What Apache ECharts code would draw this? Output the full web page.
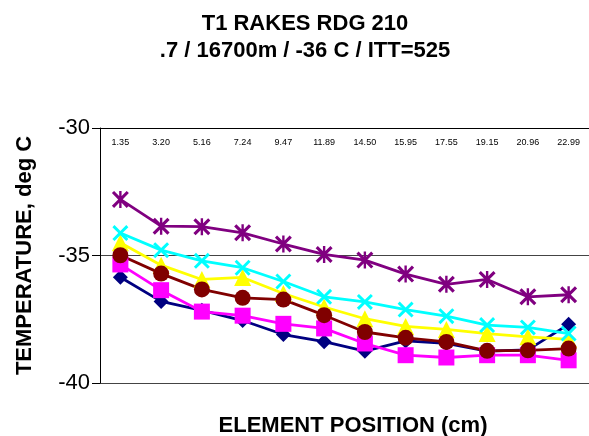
<!DOCTYPE html>
<html>
<head>
<meta charset="utf-8">
<script src="https://cdn.jsdelivr.net/npm/echarts@6/dist/echarts.min.js"></script>
<style>
  html, body { margin: 0; padding: 0; background: #fff; }
  #chart { width: 589px; height: 436px; }
</style>
</head>
<body>
<div id="chart"></div>
<script>
var chart = echarts.init(document.getElementById('chart'));

// element positions (cm)
let positions = ['1.35', '3.20', '5.16', '7.24', '9.47', '11.89', '14.50', '15.95', '17.55', '19.15', '20.96', '22.99'];

// temperatures, deg C
let navyVals = [-35.85, -36.8, -37.15, -37.55, -38.1, -38.38, -38.75, -38.35, -38.45, -38.75, -38.7, -37.7];
let magentaVals = [-35.35, -36.36, -37.2, -37.36, -37.68, -37.86, -38.45, -38.91, -39.0, -38.91, -38.91, -39.11];
let yellowVals = [-34.5, -35.38, -35.94, -35.86, -36.49, -37.02, -37.48, -37.78, -37.9, -38.06, -38.19, -38.29];
let cyanVals = [-34.12, -34.79, -35.21, -35.48, -36.02, -36.62, -36.82, -37.12, -37.38, -37.73, -37.82, -38.06];
let purpleVals = [-32.8, -33.85, -33.87, -34.11, -34.55, -34.96, -35.18, -35.73, -36.13, -35.94, -36.62, -36.54];
let redVals = [-34.99, -35.71, -36.33, -36.66, -36.73, -37.34, -38.0, -38.23, -38.39, -38.74, -38.72, -38.65];

let font = 'Liberation Sans, Arial, sans-serif';

// X and asterisk markers
let xMark = 'path://M0,1.3 L1.3,0 L5,3.7 L8.7,0 L10,1.3 L6.3,5 L10,8.7 L8.7,10 L5,6.3 L1.3,10 L0,8.7 L3.7,5 Z';
let starMark = xMark + ' M4.3,0 L5.7,0 L5.7,10 L4.3,10 Z';

let mkSeries = function(data, color, symbol, size) {
    return {
        type: 'line',
        data: data,
        symbol: symbol,
        symbolSize: size,
        showAllSymbol: true,
        lineStyle: { color: color, width: 2.8 },
        itemStyle: { color: color, borderWidth: 0 },
        emphasis: { disabled: true },
        animation: false
    };
};

option = {
    backgroundColor: '#fff',
    title: [{
        text: 'T1 RAKES RDG 210\n.7 / 16700m / -36 C / ITT=525',
        left: 300,
        top: 5,
        textAlign: 'center',
        textStyle: {
            fontFamily: font,
            fontSize: 22,
            fontWeight: 'bold',
            color: '#000',
            lineHeight: 27
        }
    }, {
        text: 'ELEMENT POSITION (cm)',
        left: 348,
        top: 410,
        textAlign: 'center',
        textStyle: {
            fontFamily: font,
            fontSize: 22,
            fontWeight: 'bold',
            color: '#000'
        }
    }],
    grid: {
        left: 100,
        top: 128,
        right: -5,
        bottom: 53
    },
    xAxis: {
        type: 'category',
        position: 'top',
        data: positions,
        boundaryGap: true,
        axisLine: { lineStyle: { color: '#000', width: 1 } },
        axisTick: { inside: true, length: 4, lineStyle: { color: '#000' } },
        axisLabel: {
            inside: true,
            margin: 10,
            fontFamily: font,
            fontSize: 9,
            color: '#000'
        },
        splitLine: { show: false }
    },
    yAxis: {
        type: 'value',
        min: -40,
        max: -30,
        interval: 5,
        name: 'TEMPERATURE, deg C',
        nameLocation: 'middle',
        nameGap: 64,
        nameRotate: 90,
        nameTextStyle: {
            fontFamily: font,
            fontSize: 22,
            fontWeight: 'bold',
            color: '#000'
        },
        axisLine: { show: true, lineStyle: { color: '#000', width: 1 } },
        axisTick: { show: true, length: 8, lineStyle: { color: '#000' } },
        axisLabel: {
            margin: 10,
            fontFamily: font,
            fontSize: 22,
            color: '#000'
        },
        splitLine: { show: true, lineStyle: { color: '#444', width: 1 } }
    },
    series: [
        mkSeries(navyVals, '#000080', 'diamond', 15),
        mkSeries(magentaVals, '#FF00FF', 'rect', 16),
        mkSeries(yellowVals, '#FFFF00', 'triangle', 17),
        mkSeries(cyanVals, '#00FFFF', xMark, 16),
        mkSeries(purpleVals, '#800080', starMark, 17),
        mkSeries(redVals, '#800000', 'circle', 16)
    ]
};
chart.setOption(option);
</script>
</body>
</html>
